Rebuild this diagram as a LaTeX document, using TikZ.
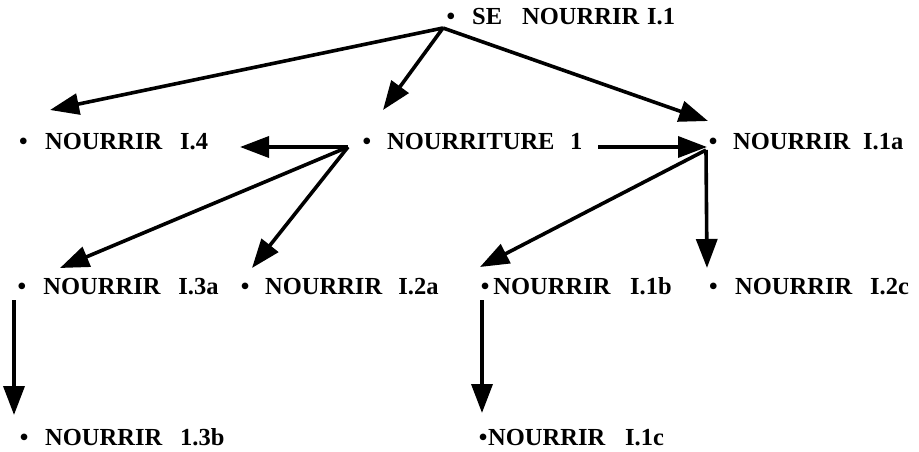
\documentclass[tikz,border=0pt]{standalone}
\usepackage{fontspec}
\setmainfont{Liberation Serif}
\usetikzlibrary{arrows.meta}
\newcommand\wbox[2]{\makebox[#1pt][l]{#2}}
\begin{document}
\begin{tikzpicture}[x=1pt,y=-1pt,
  lbl/.style={anchor=base west, inner sep=0pt, font=\fontsize{24.5}{28}\selectfont\bfseries},
  arr/.style={line width=3.6pt, -{Triangle[length=29pt,width=21pt]}}]
\useasboundingbox (0,0) rectangle (919,452);
\fill[white] (0,0) rectangle (919,452);
% labels
\node[lbl] (se)   at (446.4,25)    {\wbox{25.6}{•}\wbox{50}{SE}\wbox{125}{NOURRIR}I.1};
\node[lbl] (n14)  at (19,149.5)    {\wbox{26}{•}\wbox{135}{NOURRIR}I.4};
\node[lbl] (nt)   at (362.4,149.5) {\wbox{24.6}{•}\wbox{183}{NOURRITURE}1};
\node[lbl] (n11a) at (708.7,149.5) {\wbox{24.3}{•}\wbox{130}{NOURRIR}I.1a};
\node[lbl] (n13a) at (17.4,294.5)  {\wbox{25.9}{•}\wbox{135}{NOURRIR}I.3a};
\node[lbl] (n12a) at (240.7,294.5) {\wbox{24.3}{•}\wbox{133.3}{NOURRIR}I.2a};
\node[lbl] (n11b) at (480.7,294.5) {\wbox{12.6}{•}\wbox{136.7}{NOURRIR}I.1b};
\node[lbl] (n12c) at (709,294.5)   {\wbox{26}{•}\wbox{135}{NOURRIR}I.2c};
\node[lbl] (n13b) at (19.7,445)    {\wbox{25.3}{•}\wbox{135}{NOURRIR}1.3b};
\node[lbl] (n11c) at (478.7,445)   {\wbox{9.3}{•}\wbox{137}{NOURRIR}I.1c};
% connector end points
\coordinate (seo) at (443,28);
\coordinate (ntl) at (348,147);
\coordinate (ntr) at (598,147);
\coordinate (n11ao) at (706,150);
\coordinate (n13ao) at (14,300);
\coordinate (n11bo) at (482,300);
\coordinate (t14a) at (50,110);
\coordinate (tnt) at (383,110);
\coordinate (t11a) at (708,121);
\coordinate (t14b) at (240,147);
\coordinate (t13a) at (60,268);
\coordinate (t12a) at (252,268);
\coordinate (t11ah) at (707,147);
\coordinate (t11b) at (480,267);
\coordinate (t12c) at (707,268);
\coordinate (t13b) at (14,415);
\coordinate (t11c) at (482,413);
% connectors
\draw[arr] (seo) -- (t14a);
\draw[arr] (seo) -- (tnt);
\draw[arr] (seo) -- (t11a);
\draw[arr] (ntl) -- (t14b);
\draw[arr] (ntl) -- (t13a);
\draw[arr] (ntl) -- (t12a);
\draw[arr] (ntr) -- (t11ah);
\draw[arr] (n11ao) -- (t11b);
\draw[arr] (n11ao) -- (t12c);
\draw[arr] (n13ao) -- (t13b);
\draw[arr] (n11bo) -- (t11c);
\end{tikzpicture}
\end{document}
